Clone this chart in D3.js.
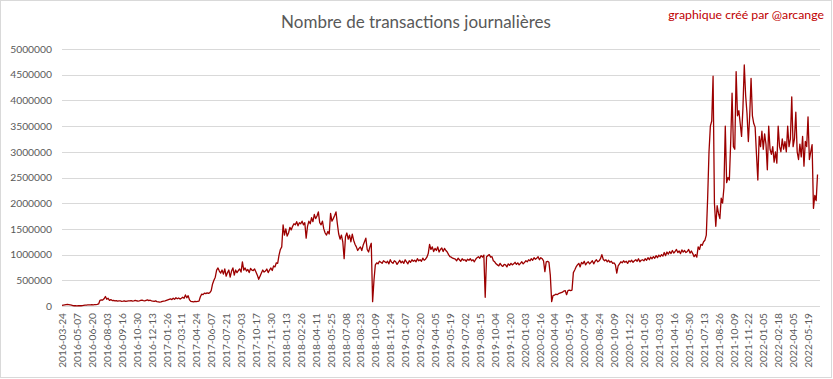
<!DOCTYPE html>
<html><head><meta charset="utf-8">
<script src="https://cdn.jsdelivr.net/npm/d3@7"></script>
<style>
body{margin:0;background:#fff}
svg{display:block}
text{font-family:Lato,"Open Sans","Liberation Sans",sans-serif}
</style>
</head><body>
<svg id="chart" width="833" height="379"></svg>
<script>
const chartTitle = "Nombre de transactions journalières";
const creditText = "graphique créé par @arcange";

const dateLabels = [
 "2016-03-24","2016-05-07","2016-06-20","2016-08-03","2016-09-16","2016-10-30","2016-12-13",
 "2017-01-26","2017-03-11","2017-04-24","2017-06-07","2017-07-21","2017-09-03","2017-10-17","2017-11-30",
 "2018-01-13","2018-02-26","2018-04-11","2018-05-25","2018-07-08","2018-08-23","2018-10-09","2018-11-24",
 "2019-01-07","2019-02-20","2019-04-05","2019-05-19","2019-07-02","2019-08-15","2019-10-04","2019-11-20",
 "2020-01-03","2020-02-16","2020-04-04","2020-05-19","2020-07-04","2020-08-24","2020-10-09","2020-11-22",
 "2021-01-05","2021-03-03","2021-04-16","2021-05-30","2021-07-13","2021-08-26","2021-10-09","2021-11-22",
 "2022-01-05","2022-02-18","2022-04-05","2022-05-19"
];
const labelEvery = 44;      // one date label every 44 daily entries
const sampleStep = 4;       // one value read every 4 daily entries
const totalDays = 2230;
const yTicks = [0,500000,1000000,1500000,2000000,2500000,3000000,3500000,4000000,4500000,5000000];

// daily transactions, in thousands, read every 4th day
const txThousands = [
 10,15,20,25,30,25,20,15,8,5,
 5,4,5,6,5,8,12,15,18,20,
 22,20,24,22,25,28,30,40,110,120,
 115,140,185,130,150,110,125,105,110,100,
 105,95,100,98,92,95,100,90,95,100,
 98,105,95,100,110,102,96,100,108,115,
 105,100,110,120,105,112,100,95,90,100,
 85,80,75,80,90,95,100,110,120,130,
 140,125,150,130,160,140,155,135,150,170,
 150,215,160,200,120,90,85,80,90,85,
 90,95,180,230,220,250,240,255,245,260,
 300,430,500,560,700,740,680,640,700,620,
 720,580,650,700,560,680,740,600,700,650,
 690,720,660,860,700,740,680,710,650,730,
 700,690,720,660,600,520,580,640,700,660,
 680,720,650,700,740,690,780,760,840,830,
 990,1100,1150,1580,1380,1500,1360,1420,1530,1480,
 1550,1600,1580,1640,1560,1620,1600,1650,1580,1620,
 1320,1550,1650,1600,1720,1640,1780,1700,1750,1830,
 1620,1580,1650,1500,1420,1380,1450,1400,1800,1650,
 1700,1760,1830,1600,1400,1300,1380,1250,920,1350,
 1420,1300,1380,1250,1400,1280,1200,1150,1080,1120,
 1150,1080,1180,1250,1320,1100,1050,1150,1220,85,
 500,800,840,820,870,850,830,880,860,840,
 870,820,900,850,830,880,860,810,850,890,
 840,870,830,900,860,820,880,850,900,870,
 890,860,920,880,900,870,930,890,910,950,
 1020,1200,1100,1150,1060,1120,1080,1150,1050,1100,
 1130,1060,1120,1080,1050,1000,960,950,930,920,
 910,880,930,900,870,920,890,900,870,910,
 890,920,880,900,860,910,940,960,930,980,
 950,990,170,960,980,1000,950,960,880,860,
 820,800,780,830,790,770,810,800,760,820,
 790,830,800,820,850,810,840,800,830,860,
 820,850,880,860,900,880,920,890,940,910,
 930,960,900,940,920,880,670,860,870,850,
 600,85,200,210,230,220,240,250,260,270,
 290,300,220,300,310,300,310,650,700,760,
 800,830,760,850,820,870,800,840,860,820,
 850,880,820,870,900,860,880,920,1000,910,
 880,900,860,890,850,870,830,840,800,640,
 780,820,860,840,880,850,870,830,880,860,
 890,850,880,900,870,920,860,890,900,880,
 920,890,940,900,950,920,960,930,980,940,
 990,960,1000,970,1040,980,1050,1010,1060,1020,
 1080,1030,1060,1100,1040,1070,1020,1090,1050,1080,
 1040,1060,1100,1030,1070,1020,960,1000,950,1150,
 1100,1200,1180,1250,1280,1380,2100,3000,3500,3600,
 4470,2000,1550,1950,1800,1700,2100,2000,2300,3500,
 2400,2500,2450,3200,4140,3100,3050,4560,3700,3800,
 3550,3300,3850,4690,4100,3750,3200,3700,4430,3700,
 3550,3480,2950,2450,3300,3100,3400,3050,3350,3150,
 2650,3500,3050,2950,3100,2800,3000,2780,3500,3100,
 3000,3250,3050,3200,3000,3500,3100,3250,4070,3100,
 3250,3770,3000,2850,3150,2900,3300,2720,3200,3100,
 3680,2850,3000,3140,1900,2150,2050,2560
];

const svg = d3.select("#chart");
const W = 833, H = 379;
svg.append("rect").attr("x",0.5).attr("y",0.5).attr("width",W-2).attr("height",H-2)
  .attr("fill","#fff").attr("stroke","#d9d9d9");

const x = d3.scaleLinear().domain([0, totalDays]).range([62, 818.2]);
const y = d3.scaleLinear().domain([0, 5000000]).range([306, 49]);

// gridlines
svg.append("g").selectAll("line").data(yTicks).join("line")
  .attr("x1",62).attr("x2",820)
  .attr("y1",d=>Math.round(y(d))+0.5).attr("y2",d=>Math.round(y(d))+0.5)
  .attr("stroke","#d9d9d9").attr("stroke-width",1);

// y axis labels
const yAxis = d3.axisLeft(y).tickValues(yTicks).tickFormat(d3.format("d")).tickSize(0).tickPadding(10);
const gy = svg.append("g").attr("transform","translate(62,0)").call(yAxis);
gy.select(".domain").remove();
gy.selectAll("text").attr("fill","#595959").style("font-size","10.3px");

// x axis labels
const xAxis = d3.axisBottom(x).tickValues(dateLabels.map((d,i)=>i*labelEvery))
  .tickFormat((d,i)=>dateLabels[i]).tickSize(0).tickPadding(0);
const gx = svg.append("g").attr("transform","translate(0,306)").call(xAxis);
gx.select(".domain").remove();
gx.selectAll("text")
  .attr("fill","#595959").style("font-size","10.2px")
  .attr("text-anchor","end")
  .attr("transform","rotate(-90)")
  .attr("x",-7).attr("y",0).attr("dy","0.35em");

// line
const line = d3.line().x((d,i)=>x(i*sampleStep)).y(d=>y(d*1000));
svg.append("path").datum(txThousands).attr("d",line)
  .attr("fill","none").attr("stroke","#9c0000").attr("stroke-width",1.3)
  .attr("stroke-linejoin","round");

// title
svg.append("text").attr("x",416).attr("y",28).attr("text-anchor","middle")
  .attr("fill","#595959").style("font-size","17px").text(chartTitle);
svg.append("text").attr("x",824).attr("y",19).attr("text-anchor","end")
  .attr("fill","#c00000").style("font-size","12.3px").text(creditText);
</script>
</body></html>
